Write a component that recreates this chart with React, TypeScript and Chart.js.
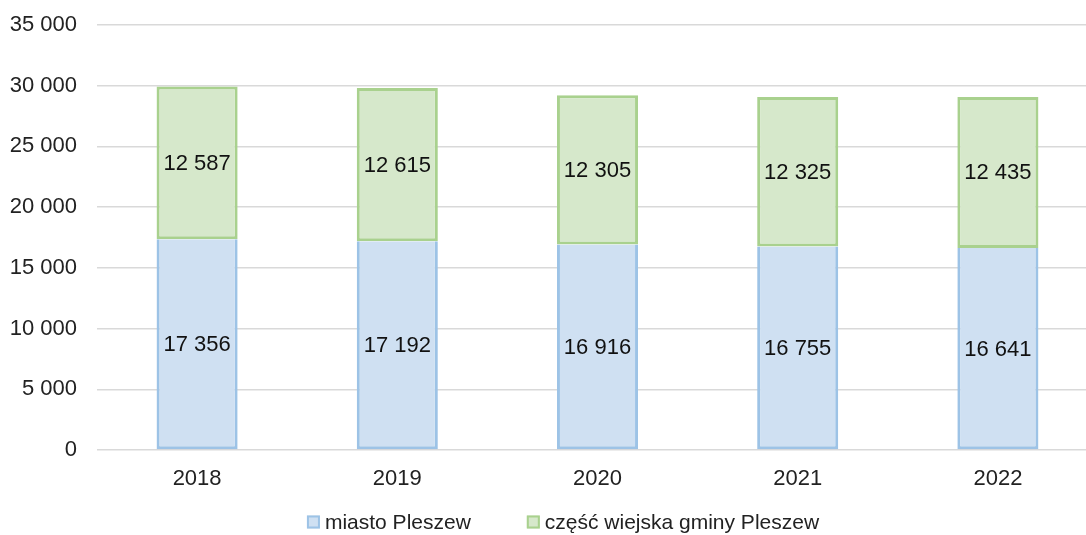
import React, { useEffect, useRef } from "react";
import { Chart, registerables } from "chart.js";

Chart.register(...registerables);

const categories = ["2018", "2019", "2020", "2021", "2022"];
const miasto = [17356, 17192, 16916, 16755, 16641];
const wies = [12587, 12615, 12305, 12325, 12435];
const seriesNames = ["miasto Pleszew", "część wiejska gminy Pleszew"];
const yTicks = [0, 5000, 10000, 15000, 20000, 25000, 30000, 35000];

const fmt = (v: number) => String(v).replace(/\B(?=(\d{3})+(?!\d))/g, " ");

const FONT = "'Liberation Sans', Arial, sans-serif";

const labelPlugin = {
  id: "segLabels",
  afterDatasetsDraw(chart: any) {
    const ctx = chart.ctx;
    ctx.save();
    ctx.font = `22px ${FONT}`;
    ctx.fillStyle = "#111";
    ctx.textAlign = "center";
    ctx.textBaseline = "middle";
    chart.data.datasets.forEach((ds: any, di: number) => {
      const meta = chart.getDatasetMeta(di);
      meta.data.forEach((bar: any, i: number) => {
        const { x, y, base } = bar.getProps(["x", "y", "base"], true);
        ctx.fillText(fmt(ds.data[i]), x, (y + base) / 2 + 1);
      });
    });
    ctx.restore();
  },
};

const legendPlugin = {
  id: "customLegend",
  afterDraw(chart: any) {
    const ctx = chart.ctx;
    ctx.save();
    ctx.font = `21px ${FONT}`;
    ctx.textBaseline = "middle";
    ctx.textAlign = "left";
    const box = 13;
    const gapText = 5;
    const gapItem = 56;
    const widths = seriesNames.map((n) => ctx.measureText(n).width);
    const total = widths.reduce((a, w) => a + box + gapText + w, 0) + gapItem;
    let x = 563 - total / 2;
    const y = 522;
    chart.data.datasets.forEach((ds: any, i: number) => {
      ctx.fillStyle = ds.backgroundColor;
      ctx.strokeStyle = ds.borderColor;
      ctx.lineWidth = 2;
      ctx.fillRect(x, y - box / 2, box, box);
      ctx.strokeRect(x + 1, y - box / 2 + 1, box - 2, box - 2);
      ctx.fillStyle = "#222";
      ctx.fillText(seriesNames[i], x + box + gapText, y + 1);
      x += box + gapText + widths[i] + gapItem;
    });
    ctx.restore();
  },
};

export default function App() {
  const ref = useRef<HTMLCanvasElement>(null);
  useEffect(() => {
    if (!ref.current) return;
    const chart = new Chart(ref.current, {
      type: "bar",
      data: {
        labels: categories,
        datasets: [
          {
            label: seriesNames[0],
            data: miasto,
            backgroundColor: "#cfe0f2",
            borderColor: "#9dc3e6",
            borderWidth: 3,
            borderSkipped: "end",
            categoryPercentage: 1,
            barPercentage: 0.405,
          },
          {
            label: seriesNames[1],
            data: wies,
            backgroundColor: "#d6e8cb",
            borderColor: "#a9d18e",
            borderWidth: 3,
            borderSkipped: false,
            categoryPercentage: 1,
            barPercentage: 0.405,
          },
        ],
      },
      options: {
        animation: false,
        responsive: false,
        layout: { padding: { top: 25, left: 0, right: 0, bottom: 0 } },
        plugins: { legend: { display: false }, tooltip: { enabled: false } },
        scales: {
          x: {
            stacked: true,
            grid: { display: false },
            border: { display: false },
            ticks: { color: "#222", font: { family: FONT, size: 22 }, padding: 8 },
            afterFit: (s: any) => {
              s.height = 85;
              s.paddingTop = 0;
              s.paddingBottom = 0;
            },
          },
          y: {
            stacked: true,
            min: 0,
            max: 35000,
            afterBuildTicks: (s: any) => {
              s.ticks = yTicks.map((v) => ({ value: v }));
            },
            grid: { color: "#d9d9d9", lineWidth: 1.5, drawTicks: false },
            border: { display: false },
            ticks: {
              color: "#222",
              font: { family: FONT, size: 22 },
              padding: 20,
              callback: (v: any) => fmt(Number(v)),
            },
            afterFit: (s: any) => {
              s.width = 97;
              s.paddingTop = 0;
              s.paddingBottom = 0;
            },
          },
        },
      },
      plugins: [labelPlugin, legendPlugin],
    });
    return () => chart.destroy();
  }, []);
  return (
    <div style={{ position: "fixed", left: 0, top: 0, width: 1086, height: 535, overflow: "hidden", background: "#fff" }}>
      <canvas ref={ref} width={1098} height={535} style={{ width: 1098, height: 535, display: "block" }} />
    </div>
  );
}
